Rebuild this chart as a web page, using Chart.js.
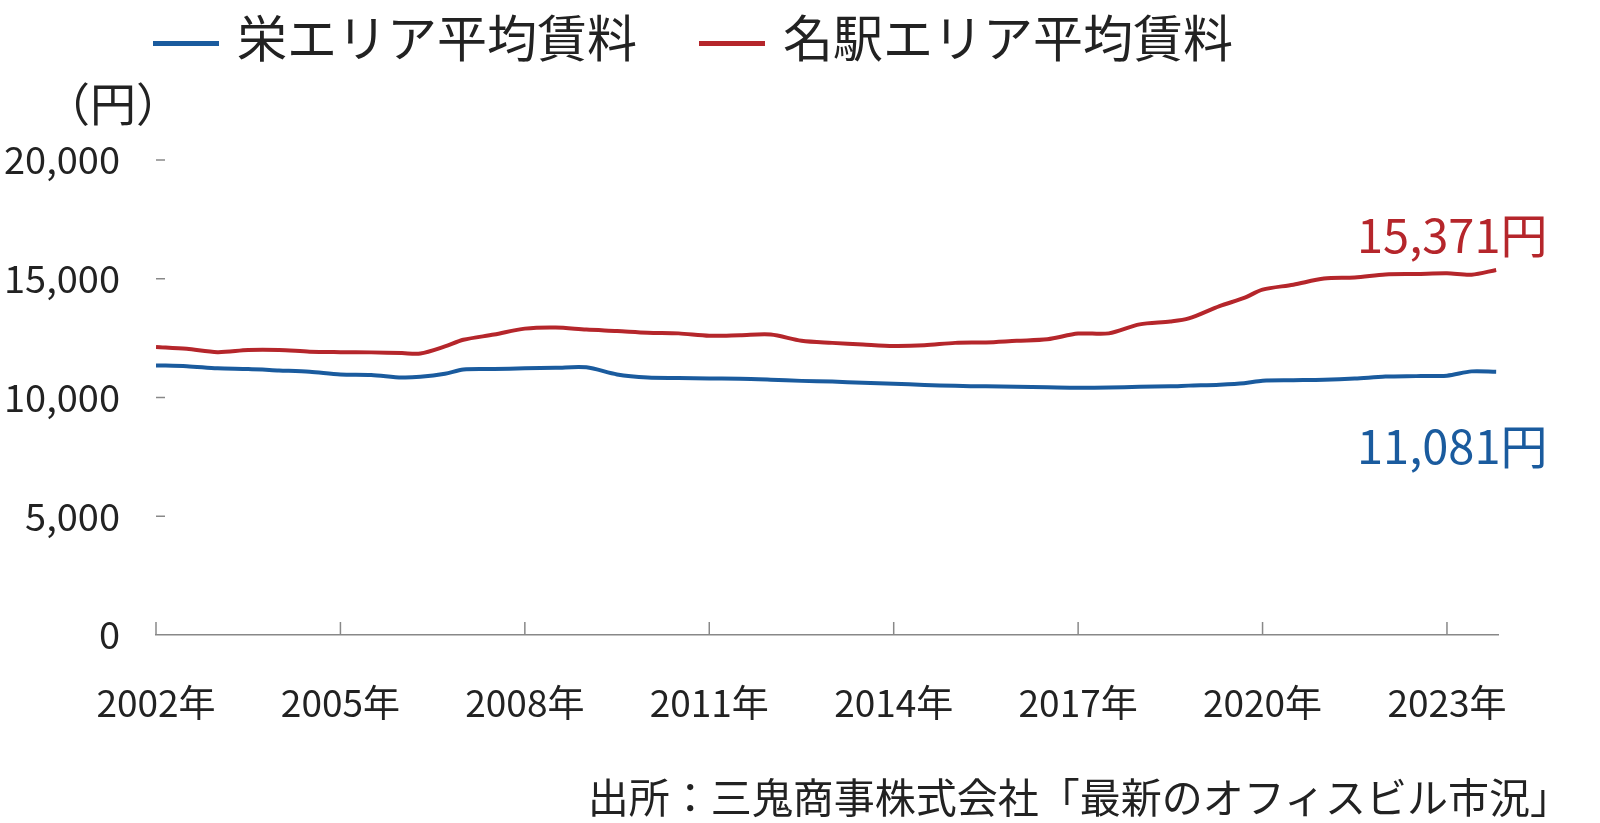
<!DOCTYPE html>
<html><head><meta charset="utf-8">
<script src="https://cdn.jsdelivr.net/npm/chart.js@4"></script>
<style>
body{margin:0;background:#fff;font-family:"Noto Sans CJK JP";color:#222}
#wrap{position:relative;width:1600px;height:823px}
.t{position:absolute;white-space:nowrap;line-height:1}
</style></head><body>
<div id="wrap">
<canvas id="c" width="1600" height="823"></canvas>
<div class="t" style="left:153px;top:10px;font-size:50px">
<span style="display:inline-block;width:66px;height:5px;background:#1a5b9e;vertical-align:middle;margin-right:18px"></span>栄エリア平均賃料<span style="display:inline-block;width:66px;height:5px;background:#b5262b;vertical-align:middle;margin:0 18px 0 62px"></span>名駅エリア平均賃料</div>
<div class="t" style="left:44px;top:78px;font-size:46px">（円）</div>
<div class="t" style="left:1357px;top:209px;font-size:47px;color:#b5262b">15,371円</div>
<div class="t" style="left:1357px;top:420px;font-size:47px;color:#1a5b9e">11,081円</div>
<div class="t" style="right:29px;top:775px;font-size:41px">出所：三鬼商事株式会社「最新のオフィスビル市況」</div>
</div>
<script>
const years=[2002,2002.5,2003,2003.5,2004,2004.5,2005,2005.5,2006,2006.3,2006.7,2007,2007.5,2008,2008.5,2009,2009.5,2010,2010.5,2011,2011.5,2012,2012.5,2013,2013.5,2014,2014.5,2015,2015.5,2016,2016.5,2017,2017.5,2018,2018.5,2018.8,2019.3,2019.7,2020,2020.5,2021,2021.5,2022,2022.5,2023,2023.4,2023.8];
const meieki=[12130,12050,11910,12000,12000,11930,11910,11900,11870,11850,12150,12430,12650,12900,12950,12860,12800,12730,12700,12600,12620,12650,12390,12300,12230,12170,12200,12300,12320,12390,12450,12690,12700,13080,13200,13330,13850,14190,14540,14750,15010,15050,15180,15200,15230,15170,15371];
const sakae=[11350,11320,11230,11200,11140,11080,10970,10950,10840,10870,11000,11180,11200,11230,11250,11270,10970,10840,10820,10800,10790,10750,10700,10670,10620,10580,10530,10490,10470,10450,10430,10410,10420,10450,10470,10500,10540,10600,10710,10730,10750,10800,10880,10900,10920,11100,11081];
const tickYears=[2002,2005,2008,2011,2014,2017,2020,2023];
const yTicks=[0,5000,10000,15000,20000];
const toPts=a=>a.map((v,i)=>({x:years[i],y:v}));
const marks={id:'marks',afterDraw(ch){const c=ch.ctx,x=ch.scales.x,y=ch.scales.y;c.save();c.strokeStyle='#888';c.lineWidth=1.5;
tickYears.forEach(t=>{const p=x.getPixelForValue(t);c.beginPath();c.moveTo(p,ch.chartArea.bottom);c.lineTo(p,ch.chartArea.bottom-13);c.stroke();});
yTicks.forEach(t=>{if(t===0)return;const p=y.getPixelForValue(t);c.beginPath();c.moveTo(156,p);c.lineTo(165,p);c.stroke();});c.restore();}};
new Chart(document.getElementById('c'),{type:'line',
data:{datasets:[
{label:'栄エリア平均賃料',data:toPts(sakae),borderColor:'#1a5b9e',borderWidth:4,pointRadius:0,tension:0.3},
{label:'名駅エリア平均賃料',data:toPts(meieki),borderColor:'#b5262b',borderWidth:4,pointRadius:0,tension:0.3}]},
options:{responsive:false,animation:false,layout:{padding:{top:160,right:102,left:0,bottom:0}},
plugins:{legend:{display:false},tooltip:{enabled:false}},
scales:{
x:{type:'linear',min:2002,max:2023.83,afterFit:s=>{s.height=188},afterBuildTicks:s=>{s.ticks=tickYears.map(v=>({value:v}))},
grid:{display:false},border:{display:true,color:'#888',width:1.5},
ticks:{padding:38,color:'#222',font:{family:'Noto Sans CJK JP',size:37},callback:v=>v+'年',maxRotation:0}},
y:{min:0,max:20000,afterFit:s=>{s.width=156},afterBuildTicks:s=>{s.ticks=yTicks.map(v=>({value:v}))},
grid:{display:false},border:{display:false},
ticks:{padding:28,color:'#222',font:{family:'Noto Sans CJK JP',size:38},callback:v=>v.toLocaleString('en-US')}}}},
plugins:[marks]});
</script></body></html>
